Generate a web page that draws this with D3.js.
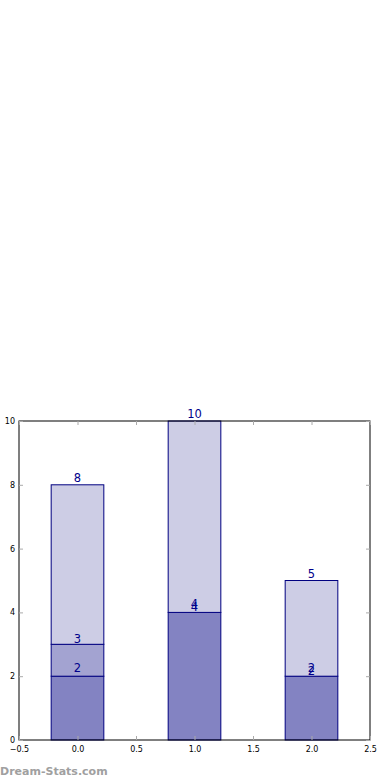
<!DOCTYPE html>
<html>
<head>
<meta charset="utf-8">
<script src="https://cdn.jsdelivr.net/npm/d3@7"></script>
<style>
  body { margin: 0; background: #fff; }
  svg { display: block; font-family: "DejaVu Sans", sans-serif; }
</style>
</head>
<body>
<div id="wrapper"></div>
<script>
// data
const positions = [0, 1, 2];
const bottomSeries = [2, 4, 2];
const middleSeries = [1, 0, 0];
const topSeries = [5, 6, 3];
const xTicks = [-0.5, 0, 0.5, 1, 1.5, 2, 2.5];
const yTicks = [0, 2, 4, 6, 8, 10];

const drawChart = () => {
  const dimensions = {
    width: 390,
    height: 780,
    margin: { top: 421, right: 20, bottom: 40, left: 19 }
  };
  dimensions.boundedWidth = dimensions.width - dimensions.margin.left - dimensions.margin.right;
  dimensions.boundedHeight = dimensions.height - dimensions.margin.top - dimensions.margin.bottom;

  const svg = d3.select("#wrapper")
    .append("svg")
    .attr("width", dimensions.width)
    .attr("height", dimensions.height);

  const bounds = svg.append("g")
    .attr("transform", `translate(${dimensions.margin.left},${dimensions.margin.top})`);

  const xScale = d3.scaleLinear().domain([-0.5, 2.5]).range([0, dimensions.boundedWidth]);
  const yScale = d3.scaleLinear().domain([0, 10]).range([dimensions.boundedHeight, 0]);
  const barWidth = 0.45;

  // stack the three series
  const stacked = d3.stack().keys(["a", "b", "c"])(
    positions.map((p, i) => ({ pos: p, a: bottomSeries[i], b: middleSeries[i], c: topSeries[i] }))
  );
  const fills = ["#8383c2", "#a3a3d1", "#cdcde5"];
  const labelOffsets = [4, 1, 3];

  stacked.forEach((layer, li) => {
    bounds.append("g")
      .selectAll("rect")
      .data(layer)
      .join("rect")
      .attr("x", d => xScale(d.data.pos - barWidth / 2))
      .attr("y", d => yScale(d[1]))
      .attr("width", xScale(barWidth) - xScale(0))
      .attr("height", d => yScale(d[0]) - yScale(d[1]))
      .attr("fill", fills[li])
      .attr("stroke", "#000080")
      .attr("stroke-width", 1);
  });

  // cumulative labels (they overlap where a segment is empty, as in the original)
  stacked.forEach((layer, li) => {
    bounds.append("g")
      .selectAll("text")
      .data(layer)
      .join("text")
      .attr("x", d => xScale(d.data.pos))
      .attr("y", d => yScale(d[1]) - labelOffsets[li])
      .attr("text-anchor", "middle")
      .attr("font-size", 11.5)
      .attr("fill", "#00008b")
      .text(d => d[1]);
  });

  // axes frame
  bounds.append("rect")
    .attr("width", dimensions.boundedWidth)
    .attr("height", dimensions.boundedHeight)
    .attr("fill", "none")
    .attr("stroke", "#000")
    .attr("stroke-width", 1);

  const fmt = d => (d < 0 ? "\u2212" : "") + Math.abs(d).toFixed(1);

  const xAxis = bounds.append("g")
    .attr("transform", `translate(0,${dimensions.boundedHeight})`)
    .call(d3.axisBottom(xScale).tickValues(xTicks).tickFormat(fmt).tickSizeInner(-4).tickSizeOuter(0).tickPadding(6));
  const xTop = bounds.append("g")
    .call(d3.axisTop(xScale).tickValues(xTicks).tickFormat("").tickSizeInner(-4).tickSizeOuter(0));
  const yAxis = bounds.append("g")
    .call(d3.axisLeft(yScale).tickValues(yTicks).tickFormat(d3.format("d")).tickSizeInner(-4).tickSizeOuter(0).tickPadding(4));
  const yRight = bounds.append("g")
    .attr("transform", `translate(${dimensions.boundedWidth},0)`)
    .call(d3.axisRight(yScale).tickValues(yTicks).tickFormat("").tickSizeInner(-4).tickSizeOuter(0));

  [xAxis, xTop, yAxis, yRight].forEach(ax => {
    ax.select(".domain").remove();
    ax.selectAll(".tick line").attr("stroke", "#aaa");
    ax.selectAll(".tick text")
      .attr("font-family", "DejaVu Sans, sans-serif")
      .attr("font-size", 8)
      .attr("fill", "#000");
  });

  // watermark
  svg.append("text")
    .attr("x", 0)
    .attr("y", 775)
    .attr("font-family", "DejaVu Sans, sans-serif")
    .attr("font-weight", "bold")
    .attr("font-size", 11)
    .attr("fill", "#a0a0a0")
    .text("Dream-Stats.com");
};

drawChart();
</script>
</body>
</html>
